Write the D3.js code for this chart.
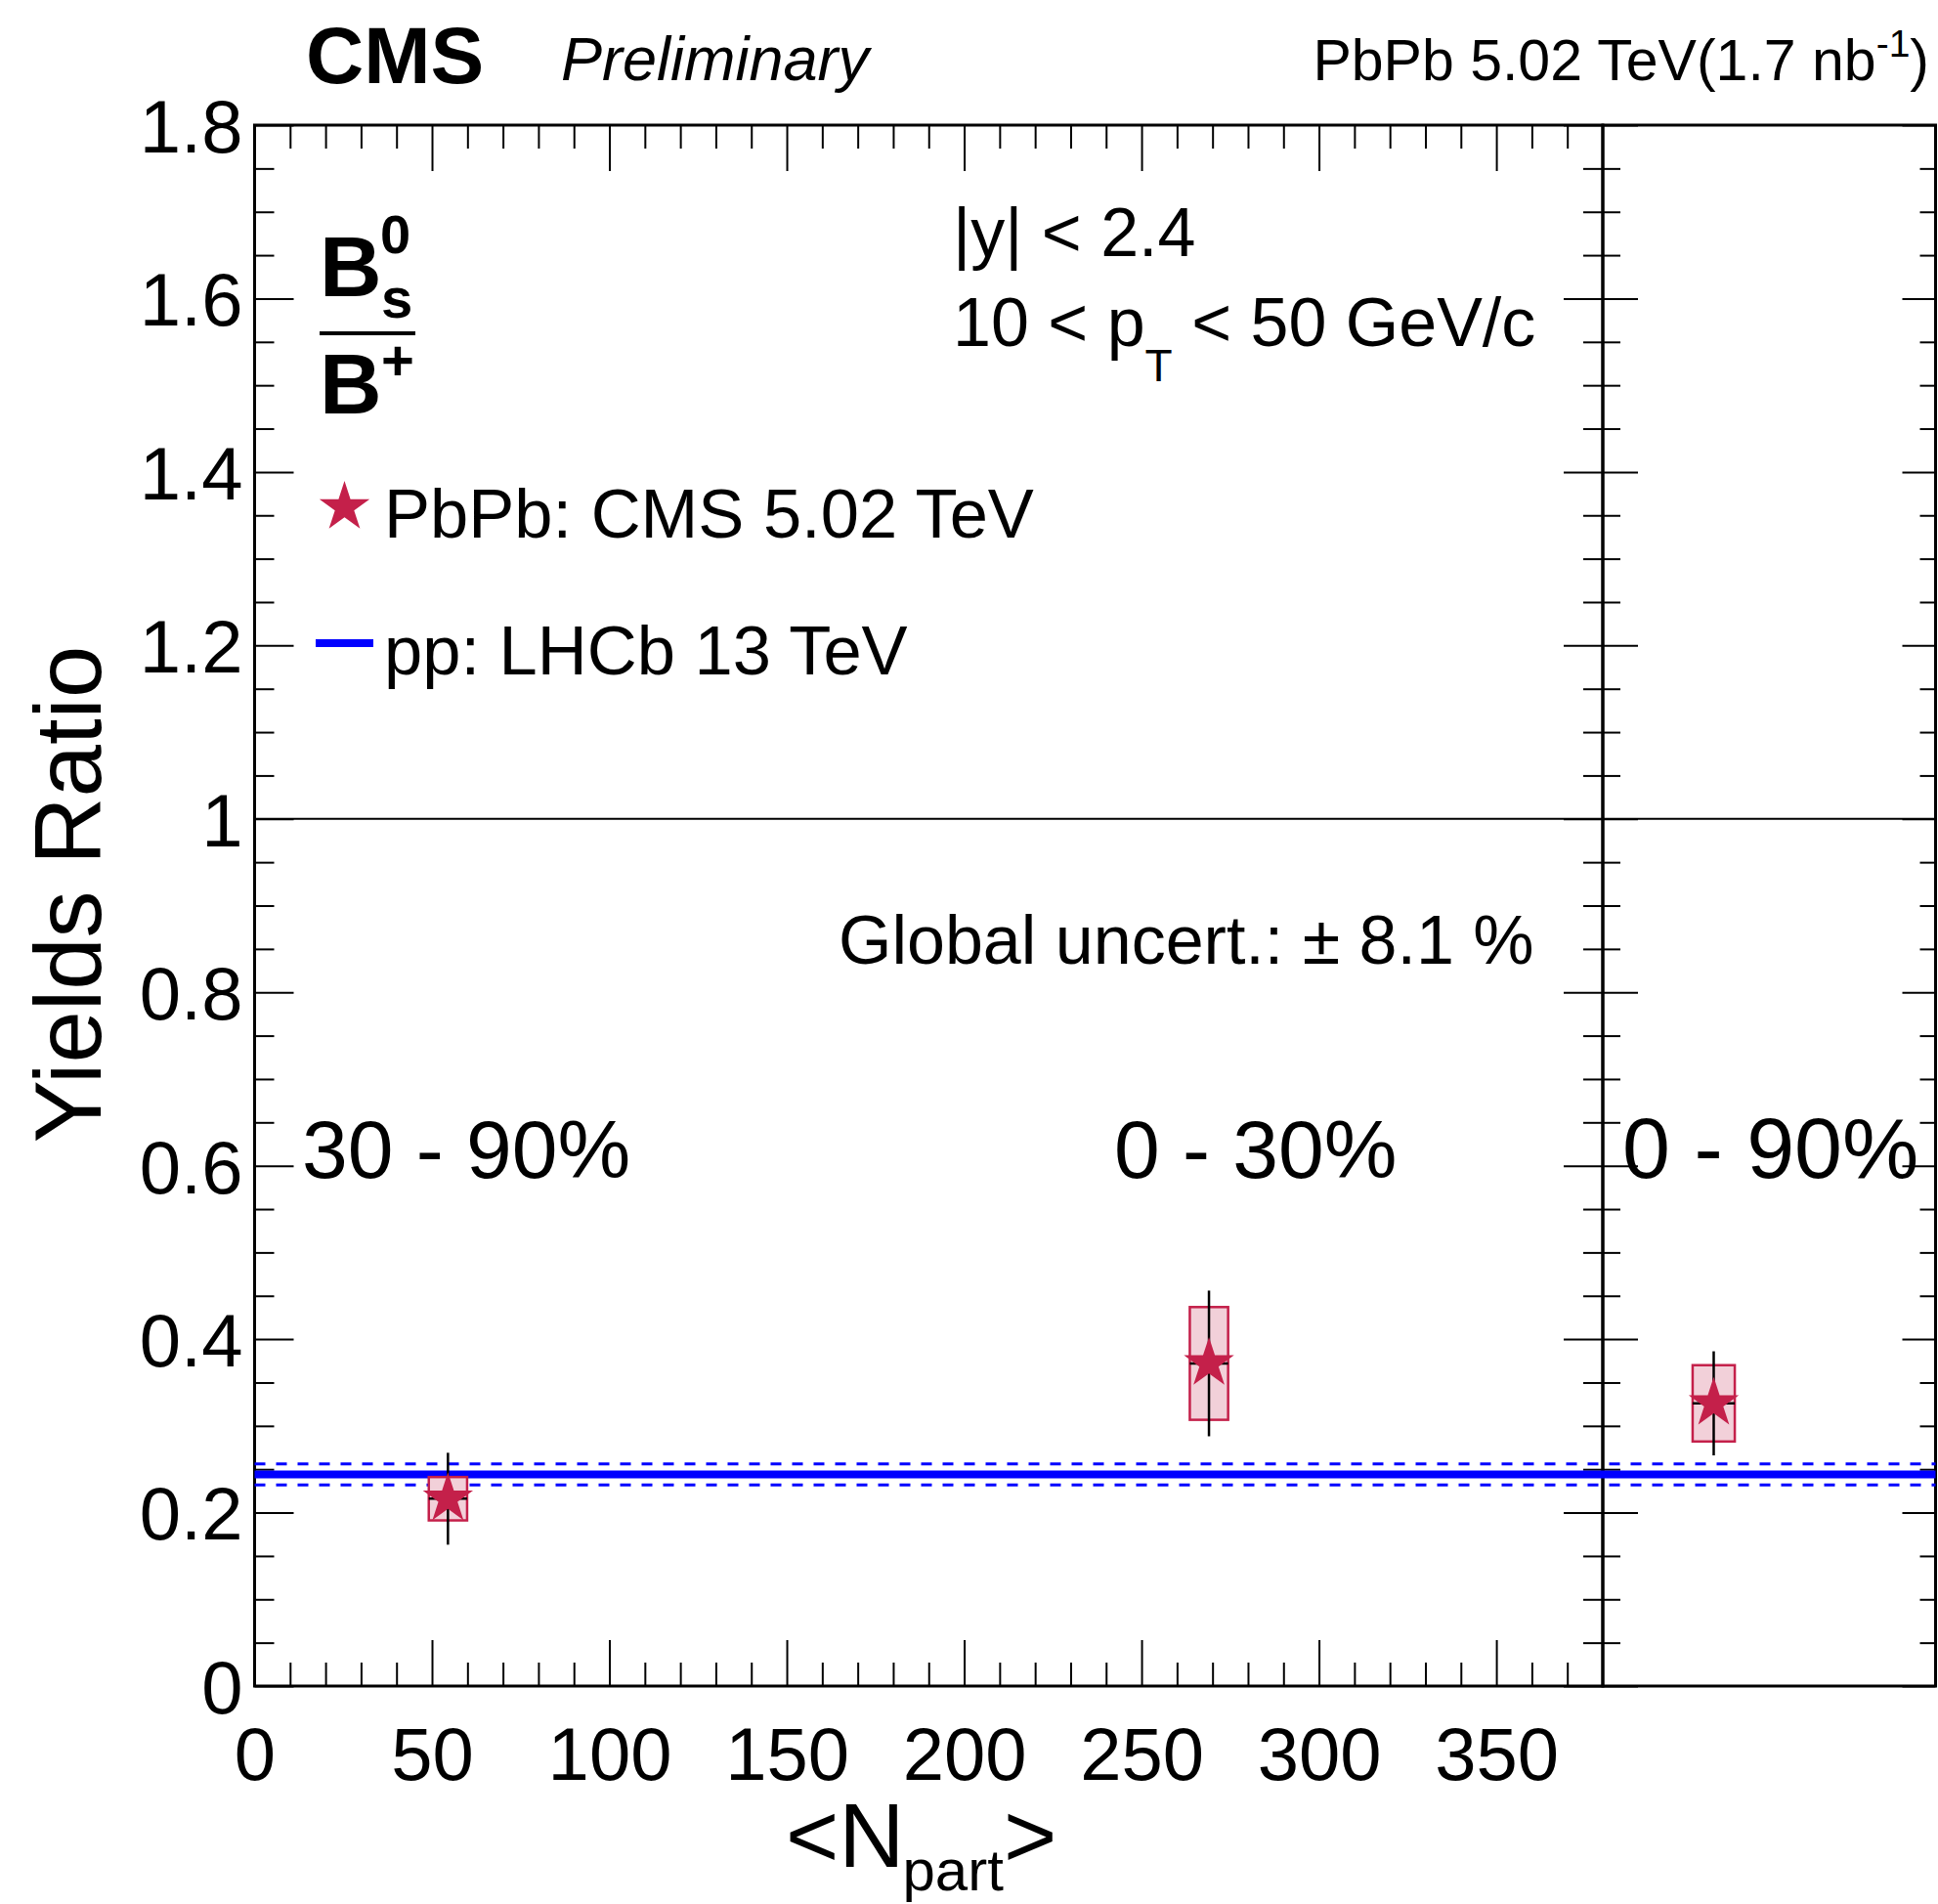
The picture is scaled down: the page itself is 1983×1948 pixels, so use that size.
<!DOCTYPE html>
<html><head><meta charset="utf-8">
<script src="https://cdn.jsdelivr.net/npm/d3@7"></script>
<style>
body{margin:0;background:#fff}
svg text{font-family:"Liberation Sans",Arial,Helvetica,sans-serif;fill:#000}
</style>
</head><body>
<script>
// ---------------- data ----------------
const centralityLabels = ["30 - 90%", "0 - 30%"];
const npart = [54.5, 269];
const npartHalfWidth = [5.4, 5.4];
const ratio = [0.216, 0.372];
const statErr = [0.053, 0.084];
const sysErr = [0.025, 0.065];

const integratedLabel = ["0 - 90%"];
const integratedX = [1];
const integratedHalfWidth = [0.19];
const integratedRatio = [0.326];
const integratedStat = [0.060];
const integratedSys = [0.044];

const ppRatio = [0.244];
const ppErr = [0.012];

const xMajorTicks = [0, 50, 100, 150, 200, 250, 300, 350];
const yMajorTicks = [0, 0.2, 0.4, 0.6, 0.8, 1.0, 1.2, 1.4, 1.6, 1.8];
const xMinorTicks = d3.range(10, 380, 10).filter(v => v % 50 !== 0);
const yMinorTicks = d3.range(1, 36).map(i => i * 0.05).filter((v, i) => (i + 1) % 4 !== 0);

// ---------------- layout ----------------
const W = 1983, H = 1948;
const L = 260.5, M = 1640, R = 1980.5, T = 128, B = 1725;
const RED = "#c4204a", RED_FILL = "#f2d0d9", BLUE = "#0000ff";

const svg = d3.select("body").append("svg").attr("width", W).attr("height", H);

const x1 = d3.scaleLinear().domain([0, 380]).range([L, M]);
const x2 = d3.scaleLinear().domain([0, 3]).range([M, R]);
const y = d3.scaleLinear().domain([0, 1.8]).range([B, T]);

function styleAxis(g, w) {
  g.select(".domain").remove();
  g.selectAll(".tick line").attr("stroke", "#000").attr("stroke-width", w);
}

// ---- panel 1 axes ----
const gxB = svg.append("g").attr("transform", `translate(0,${B})`)
  .call(d3.axisBottom(x1).tickValues(xMajorTicks).tickSize(-47).tickFormat(d3.format("d")));
styleAxis(gxB, 2);
gxB.selectAll("text").attr("y", 96).attr("dy", null).style("font-size", "76px");
const gxBm = svg.append("g").attr("transform", `translate(0,${B})`)
  .call(d3.axisBottom(x1).tickValues(xMinorTicks).tickSize(-24).tickFormat(""));
styleAxis(gxBm, 2);
const gxT = svg.append("g").attr("transform", `translate(0,${T})`)
  .call(d3.axisTop(x1).tickValues(xMajorTicks).tickSize(-47).tickFormat(""));
styleAxis(gxT, 2);
const gxTm = svg.append("g").attr("transform", `translate(0,${T})`)
  .call(d3.axisTop(x1).tickValues(xMinorTicks).tickSize(-24).tickFormat(""));
styleAxis(gxTm, 2);

const gyL = svg.append("g").attr("transform", `translate(${L},0)`)
  .call(d3.axisLeft(y).tickValues(yMajorTicks).tickSize(-40).tickFormat(d3.format("~g")));
styleAxis(gyL, 2);
gyL.selectAll("text").attr("x", -12).attr("dy", "0.36em").style("font-size", "76px");
const gyLm = svg.append("g").attr("transform", `translate(${L},0)`)
  .call(d3.axisLeft(y).tickValues(yMinorTicks).tickSize(-20).tickFormat(""));
styleAxis(gyLm, 2);
const gyR1 = svg.append("g").attr("transform", `translate(${M},0)`)
  .call(d3.axisRight(y).tickValues(yMajorTicks).tickSize(-40).tickFormat(""));
styleAxis(gyR1, 2);
const gyR1m = svg.append("g").attr("transform", `translate(${M},0)`)
  .call(d3.axisRight(y).tickValues(yMinorTicks).tickSize(-20).tickFormat(""));
styleAxis(gyR1m, 2);

// ---- panel 2 axes ----
const gy2L = svg.append("g").attr("transform", `translate(${M},0)`)
  .call(d3.axisLeft(y).tickValues(yMajorTicks).tickSize(-36).tickFormat(""));
styleAxis(gy2L, 2);
const gy2Lm = svg.append("g").attr("transform", `translate(${M},0)`)
  .call(d3.axisLeft(y).tickValues(yMinorTicks).tickSize(-18).tickFormat(""));
styleAxis(gy2Lm, 2);
const gy2R = svg.append("g").attr("transform", `translate(${R},0)`)
  .call(d3.axisRight(y).tickValues(yMajorTicks).tickSize(-34).tickFormat(""));
styleAxis(gy2R, 2);
const gy2Rm = svg.append("g").attr("transform", `translate(${R},0)`)
  .call(d3.axisRight(y).tickValues(yMinorTicks).tickSize(-16).tickFormat(""));
styleAxis(gy2Rm, 2);

// ---- frames ----
svg.append("rect").attr("x", L).attr("y", T).attr("width", M - L).attr("height", B - T)
  .attr("fill", "none").attr("stroke", "#000").attr("stroke-width", 3);
svg.append("rect").attr("x", M).attr("y", T).attr("width", R - M).attr("height", B - T)
  .attr("fill", "none").attr("stroke", "#000").attr("stroke-width", 3);

// ---- unity line ----
svg.append("line").attr("x1", x1(0)).attr("x2", x2(3)).attr("y1", y(1)).attr("y2", y(1))
  .attr("stroke", "#000").attr("stroke-width", 2);

// ---- pp reference band ----
const ppG = svg.append("g");
ppG.append("line").attr("x1", x1(0)).attr("x2", x2(3)).attr("y1", y(ppRatio[0])).attr("y2", y(ppRatio[0]))
  .attr("stroke", BLUE).attr("stroke-width", 8);
[ppRatio[0] + ppErr[0], ppRatio[0] - ppErr[0]].forEach(v => {
  ppG.append("line").attr("x1", x1(0)).attr("x2", x2(3)).attr("y1", y(v)).attr("y2", y(v))
    .attr("stroke", BLUE).attr("stroke-width", 3).attr("stroke-dasharray", "11,11");
});

// ---- data points ----
const star = d3.symbol().type(d3.symbolStar).size(27 * 27 / 0.8908130915292852);
function drawPoints(xs, hw, vals, stat, sys, xs_scale) {
  const g = svg.append("g");
  const pts = xs.map((d, i) => ({x: d, hw: hw[i], v: vals[i], st: stat[i], sy: sys[i]}));
  g.selectAll("rect.sys").data(pts).join("rect").attr("class", "sys")
    .attr("x", d => xs_scale(d.x - d.hw)).attr("width", d => xs_scale(d.x + d.hw) - xs_scale(d.x - d.hw))
    .attr("y", d => y(d.v + d.sy)).attr("height", d => y(d.v - d.sy) - y(d.v + d.sy))
    .attr("fill", RED_FILL).attr("stroke", RED).attr("stroke-width", 2.5);
  g.selectAll("line.ex").data(pts).join("line").attr("class", "ex")
    .attr("x1", d => xs_scale(d.x - d.hw)).attr("x2", d => xs_scale(d.x + d.hw))
    .attr("y1", d => y(d.v)).attr("y2", d => y(d.v)).attr("stroke", "#000").attr("stroke-width", 2.5);
  g.selectAll("line.ey").data(pts).join("line").attr("class", "ey")
    .attr("x1", d => xs_scale(d.x)).attr("x2", d => xs_scale(d.x))
    .attr("y1", d => y(d.v + d.st)).attr("y2", d => y(d.v - d.st)).attr("stroke", "#000").attr("stroke-width", 2.5);
  g.selectAll("path.star").data(pts).join("path").attr("class", "star")
    .attr("transform", d => `translate(${xs_scale(d.x)},${y(d.v)})`).attr("d", star).attr("fill", RED);
}
drawPoints(npart, npartHalfWidth, ratio, statErr, sysErr, x1);
drawPoints(integratedX, integratedHalfWidth, integratedRatio, integratedStat, integratedSys, x2);

// ---- texts ----
function txt(x, yy, s, size, opts = {}) {
  const t = svg.append("text").attr("x", x).attr("y", yy).style("font-size", size + "px").text(s);
  if (opts.weight) t.style("font-weight", opts.weight);
  if (opts.italic) t.style("font-style", "italic");
  if (opts.anchor) t.attr("text-anchor", opts.anchor);
  return t;
}
txt(313, 85, "CMS", 82, {weight: "bold"});
txt(574, 82, "Preliminary", 63, {italic: true});
const tr = svg.append("text").attr("x", 1974).attr("y", 82).attr("text-anchor", "end").style("font-size", "59px");
tr.append("tspan").text("PbPb 5.02 TeV(1.7 nb");
tr.append("tspan").attr("dy", -24).style("font-size", "39px").text("-1");
tr.append("tspan").attr("dy", 24).text(")");

txt(975, 262, "|y| < 2.4", 70);
const pt = svg.append("text").attr("x", 975).attr("y", 354).style("font-size", "70px");
pt.append("tspan").text("10 < p");
pt.append("tspan").attr("dy", 36).style("font-size", "46px").text("T");
pt.append("tspan").attr("dy", -36).text(" < 50 GeV/c");

txt(858, 986, "Global uncert.: \u00b1 8.1 %", 70);

const centX = [309, 1140];
centralityLabels.forEach((c, i) => txt(centX[i], 1205, c, 84));
txt(1660, 1205, integratedLabel[0], 88);

// fraction Bs0 / B+
svg.append("text").attr("x", 327).attr("y", 303).style("font-weight", "bold").style("font-size", "88px").text("B");
svg.append("text").attr("x", 389).attr("y", 259).style("font-weight", "bold").style("font-size", "56px").text("0");
svg.append("text").attr("x", 390).attr("y", 325).style("font-weight", "bold").style("font-size", "58px").text("s");
svg.append("line").attr("x1", 327).attr("x2", 425).attr("y1", 341).attr("y2", 341).attr("stroke", "#000").attr("stroke-width", 4);
svg.append("text").attr("x", 327).attr("y", 423).style("font-weight", "bold").style("font-size", "88px").text("B");
svg.append("text").attr("x", 390).attr("y", 389).style("font-weight", "bold").style("font-size", "58px").text("+");

// legend
svg.append("path").attr("transform", "translate(352.5,519)").attr("d", star).attr("fill", RED);
txt(393, 550, "PbPb: CMS 5.02 TeV", 70.5);
svg.append("line").attr("x1", 323).attr("x2", 382).attr("y1", 658).attr("y2", 658).attr("stroke", BLUE).attr("stroke-width", 8);
txt(393, 690, "pp: LHCb 13 TeV", 70.5);

// axis titles
svg.append("text").attr("transform", "translate(103,915) rotate(-90)").attr("text-anchor", "middle")
  .style("font-size", "96px").text("Yields Ratio");
const xt = svg.append("text").attr("x", 804).attr("y", 1910).style("font-size", "93px");
xt.append("tspan").text("<N");
xt.append("tspan").attr("dy", 24).attr("dx", -2).style("font-size", "60px").text("part");
xt.append("tspan").attr("dy", -24).text(">");
</script>
</body></html>
